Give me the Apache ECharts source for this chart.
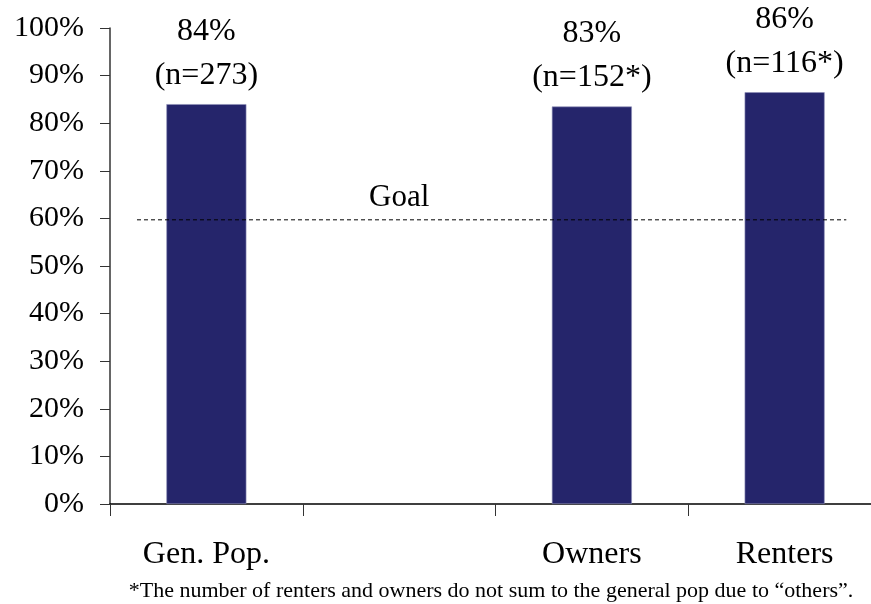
<!DOCTYPE html>
<html>
<head>
<meta charset="utf-8">
<script src="https://cdn.jsdelivr.net/npm/echarts@6/dist/echarts.min.js"></script>
<style>
  html, body { margin: 0; padding: 0; background: #fff; }
  #chart { width: 871px; height: 604px; }
</style>
</head>
<body>
<div id="chart"></div>
<script>
// chart data
var categories = ["Gen. Pop.", "", "Owners", "Renters"];
var values = [84, null, 83.5, 86.5];
var pctLabels = ["84%", "", "83%", "86%"];
var nLabels = ["(n=273)", "", "(n=152*)", "(n=116*)"];
var yTicks = [0, 10, 20, 30, 40, 50, 60, 70, 80, 90, 100];
var goal = 59.7;
var goalX = [0.14, 3.82];
var goalLabelX = 1.5;
var footnote = "*The number of renters and owners do not sum to the general pop due to \u201cothers\u201d.";

var font = "Liberation Serif, Times New Roman, serif";
var chart = echarts.init(document.getElementById("chart"));

var barData = values.map(function (v, i) {
  return {
    value: v,
    label: { formatter: pctLabels[i] + "\n" + nLabels[i] }
  };
});

var option = {
  animation: false,
  title: {
    text: footnote,
    left: 486,
    textAlign: "center",
    top: 575,
    textStyle: { fontFamily: font, fontSize: 22, fontWeight: "normal", color: "#000" }
  },
  grid: { left: 110, top: 28, width: 771, height: 476, outerBoundsMode: "none", containLabel: false },
  xAxis: [
    {
      type: "category",
      data: categories,
      axisLine: { lineStyle: { color: "#000", width: 1.5 } },
      axisTick: { show: true, length: 12, lineStyle: { color: "#333" } },
      axisLabel: { fontFamily: font, fontSize: 32, color: "#000", margin: 35, interval: 0 },
      splitLine: { show: false }
    },
    {
      type: "value",
      min: 0,
      max: 4,
      show: false,
      position: "bottom"
    }
  ],
  yAxis: {
    type: "value",
    min: 0,
    max: 100,
    interval: 10,
    axisLine: { show: true, lineStyle: { color: "#333", width: 1.5 } },
    axisTick: { show: true, length: 10, lineStyle: { color: "#333" } },
    axisLabel: {
      fontFamily: font,
      fontSize: 30,
      color: "#000",
      margin: 26,
      formatter: function (v) { return yTicks.indexOf(v) >= 0 ? v + "%" : ""; }
    },
    splitLine: { show: false }
  },
  series: [
    {
      type: "bar",
      xAxisIndex: 0,
      data: barData,
      barWidth: 80,
      itemStyle: { color: "#25256b", borderColor: "#8e90b8", borderWidth: 0.6 },
      label: {
        show: true,
        position: "top",
        distance: 7,
        fontFamily: font,
        fontSize: 32,
        lineHeight: 44,
        color: "#000",
        align: "center"
      },
      z: 2
    },
    {
      type: "line",
      xAxisIndex: 1,
      data: [[goalX[0], goal], [goalX[1], goal]],
      symbol: "none",
      lineStyle: { color: "#000", width: 1, type: [4, 3] },
      z: 3
    },
    {
      type: "scatter",
      xAxisIndex: 1,
      data: [[goalLabelX, goal]],
      symbolSize: 0,
      itemStyle: { opacity: 1 },
      label: {
        show: true,
        position: "top",
        distance: 6,
        formatter: "Goal",
        fontFamily: font,
        fontSize: 31,
        color: "#000"
      },
      z: 3
    }
  ]
};
chart.setOption(option);
</script>
</body>
</html>
